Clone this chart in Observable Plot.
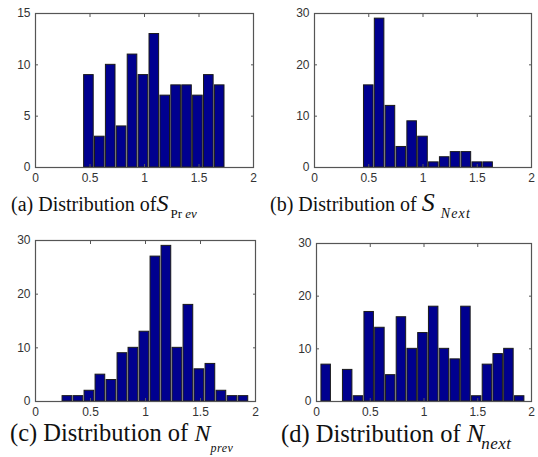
<!DOCTYPE html>
<html><head><meta charset="utf-8">
<script src="https://cdn.jsdelivr.net/npm/d3@7"></script>
<script src="https://cdn.jsdelivr.net/npm/@observablehq/plot@0.6"></script>
<style>
body{margin:0;background:#fff;}
#root{position:relative;width:538px;height:457px;overflow:hidden;background:#fff}
.panel{position:absolute}
#caps{position:absolute;left:0;top:0;pointer-events:none}
</style></head><body>
<div id="root"></div>
<script>
// ---- data ----
const xTicks = [0, 0.5, 1, 1.5, 2];

const centersA = [0.49,0.59,0.69,0.79,0.89,0.99,1.09,1.19,1.29,1.39,1.49,1.59,1.69];
const countsA  = [9,3,10,4,11,9,13,7,8,8,7,9,8];
const yTicksA  = [0,5,10,15];

const centersB = [0.50,0.60,0.70,0.80,0.90,1.00,1.10,1.20,1.30,1.40,1.50,1.60];
const countsB  = [16,29,12,4,9,6,1,2,3,3,1,1];
const yTicksB  = [0,10,20,30];

const centersC = [0.29,0.39,0.49,0.59,0.69,0.79,0.89,0.99,1.09,1.19,1.29,1.39,1.49,1.59,1.69,1.79,1.89];
const countsC  = [1,1,2,5,4,9,10,13,27,29,10,18,6,7,2,1,1];
const yTicksC  = [0,10,20,30];

const centersD = [0.09,0.19,0.29,0.39,0.49,0.59,0.69,0.79,0.89,0.99,1.09,1.19,1.29,1.39,1.49,1.59,1.69,1.79,1.89];
const countsD  = [7,0,6,1,17,14,5,16,10,13,18,10,8,18,1,7,9,10,1];
const yTicksD  = [0,10,20,30];

const captionLabels = ["(a) Distribution of", "(b) Distribution of ", "(c) Distribution of ", "(d) Distribution of "];
const captionVars   = ["S", "S", "N", "N"];
// subscript pieces: [text, italic]
const captionSubs   = [[["Pr", false], [" ev", true]], [["Next", true]], [["prev", true]], [["next", true]]];

// ---- drawing ----
const HALF = 0.044;
const root = document.getElementById("root");

function panel(centers, counts, yTicks, box) {
  const data = centers.map((c, i) => ({x1: c - HALF, x2: c + HALF, y: counts[i]}));
  const yMax = yTicks[yTicks.length - 1];
  const chart = Plot.plot({
    width: box.w, height: box.h,
    marginLeft: box.mL, marginRight: box.mR, marginTop: box.mT, marginBottom: box.mB,
    style: {fontFamily: "'Liberation Sans', Arial, sans-serif", fontSize: "12px", color: "#333", background: "transparent", overflow: "visible"},
    x: {domain: [0, 2], label: null},
    y: {domain: [0, yMax], label: null},
    marks: [
      Plot.rectY(data.filter(d => d.y > 0), {x1: "x1", x2: "x2", y: "y", fill: "#00008f", stroke: "#1a1a1a", strokeWidth: 1}),
      Plot.frame({stroke: "#555", strokeWidth: 1.2}),
      Plot.axisX({ticks: xTicks, tickSize: -3, tickPadding: 9, tickFormat: d => String(d), label: null, stroke: "#555"}),
      Plot.axisX({ticks: xTicks, anchor: "top", tickSize: -3, tickFormat: () => "", label: null, stroke: "#555"}),
      Plot.axisY({ticks: yTicks, tickSize: -3, tickPadding: 8, tickFormat: d => String(d), label: null, stroke: "#555"}),
      Plot.axisY({ticks: yTicks, anchor: "right", tickSize: -3, tickFormat: () => "", label: null, stroke: "#555"})
    ]
  });
  const div = document.createElement("div");
  div.className = "panel";
  div.style.left = box.left + "px";
  div.style.top = box.top + "px";
  div.appendChild(chart);
  root.appendChild(div);
}

panel(centersA, countsA, yTicksA, {left: 0,   top: 0,   w: 268, h: 190, mL: 35, mR: 15, mT: 13, mB: 23});
panel(centersB, countsB, yTicksB, {left: 268, top: 0,   w: 270, h: 190, mL: 46, mR: 7,  mT: 13, mB: 23});
panel(centersC, countsC, yTicksC, {left: 0,   top: 225, w: 268, h: 195, mL: 35, mR: 13, mT: 15, mB: 19});
panel(centersD, countsD, yTicksD, {left: 268, top: 225, w: 270, h: 195, mL: 48, mR: 7,  mT: 18, mB: 19});

// captions (typeset text)
const capStyle = [
  {x: 11,  y: 211, fs: 20,   vfs: 24, sfs: 13, ls: 0,   dx: 2,  dy: 7},
  {x: 270, y: 211, fs: 20,   vfs: 26, sfs: 14, ls: 1.2, dx: 6,  dy: 7},
  {x: 10,  y: 441, fs: 24.5, vfs: 24, sfs: 12, ls: 0.5, dx: 0,  dy: 11},
  {x: 281, y: 442, fs: 24.5, vfs: 26, sfs: 17, ls: 0.5, dx: -3, dy: 7}
];
const svg = d3.select(root).append("svg").attr("id", "caps").attr("width", 538).attr("height", 457);
captionLabels.forEach((lab, i) => {
  const s = capStyle[i];
  const t = svg.append("text").attr("x", s.x).attr("y", s.y)
    .attr("font-family", "'Liberation Serif', 'Times New Roman', serif")
    .attr("font-size", s.fs).attr("fill", "#111");
  t.append("tspan").text(lab);
  t.append("tspan").attr("font-style", "italic").attr("font-size", s.vfs).text(captionVars[i]);
  captionSubs[i].forEach(([txt, it], j) => {
    const sp = t.append("tspan").attr("font-style", it ? "italic" : "normal").attr("font-size", s.sfs)
      .attr("letter-spacing", s.ls).attr("xml:space", "preserve").text(txt);
    if (j === 0) sp.attr("dx", s.dx).attr("dy", s.dy);
  });
});
</script>
</body></html>
